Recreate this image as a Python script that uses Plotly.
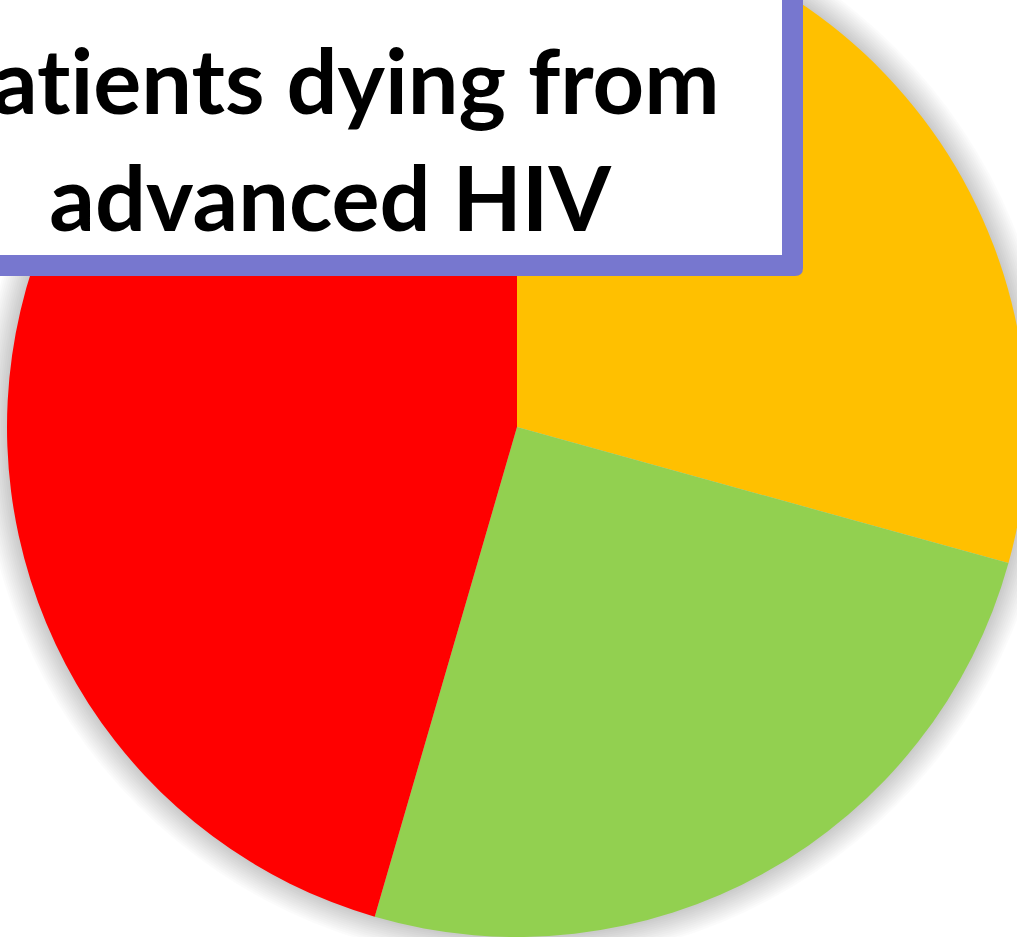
import plotly.graph_objects as go

# ---- data ----
categories = ["Yellow group", "Green group", "Red group"]
shares = [29.3, 25.2, 45.5]
colors = ["#FFC000", "#92D050", "#FF0000"]
title_text = "patients dying from<br>advanced HIV"

# ---- geometry (page pixels; figure is larger than the window and shifted) ----
W, H = 1100, 1100
SX, SY = 40, 110          # figure offset hidden to the left / top
CX, CY, R = 517, 427, 510  # pie centre and radius in page pixels


def px(x):
    return (x + SX) / W


def py(y):
    return 1 - (y + SY) / H


def dom(r):
    return dict(x=[px(CX - r), px(CX + r)], y=[py(CY + r), py(CY - r)])


fig = go.Figure()

# soft shadow behind the pie
for k in range(26, 0, -2):
    fig.add_trace(go.Pie(values=[1], labels=["s"], domain=dom(R + k),
                         marker=dict(colors=["rgba(0,0,0,0.014)"]),
                         textinfo="none", hoverinfo="skip", showlegend=False,
                         sort=False))

fig.add_trace(go.Pie(labels=categories, values=shares, domain=dom(R),
                     marker=dict(colors=colors, line=dict(width=0)),
                     sort=False, direction="clockwise", rotation=0,
                     textinfo="none", hoverinfo="label+percent",
                     showlegend=False))

# title box: purple frame with rounded outer bottom-right corner
ox, oy = 803, 276   # outer right / bottom
ix, iy = 782, 255   # inner right / bottom
left, top = -300, -200
rc = 8
purple = "#7777CF"
path = (f"M {px(left)},{py(top)} L {px(ox)},{py(top)} "
        f"L {px(ox)},{py(oy - rc)} Q {px(ox)},{py(oy)} {px(ox - rc)},{py(oy)} "
        f"L {px(left)},{py(oy)} Z")
fig.add_shape(type="path", xref="paper", yref="paper", path=path,
              fillcolor=purple, line=dict(width=0), layer="above")
fig.add_shape(type="rect", xref="paper", yref="paper",
              x0=px(left), x1=px(ix), y0=py(iy), y1=py(top),
              fillcolor="white", line=dict(width=0), layer="above")

fig.add_annotation(text=title_text, xref="paper", yref="paper",
                   x=px(330), y=py(137), xanchor="center", yanchor="middle",
                   showarrow=False, align="center",
                   font=dict(family="Lato", size=90, color="black", weight="bold"))

fig.update_layout(width=W, height=H, margin=dict(l=0, r=0, t=0, b=0),
                  paper_bgcolor="white", plot_bgcolor="white")

post = f"""
document.body.style.margin='0';
document.body.style.overflow='hidden';
document.documentElement.style.overflow='hidden';
var gd=document.getElementById('{{plot_id}}');
gd.style.marginTop='-{SY}px';
gd.style.marginLeft='-{SX}px';
gd.querySelectorAll('.annotation-text').forEach(function(e){{
  e.style.fontVariantLigatures='none';
  e.style.fontFeatureSettings='"liga" 0, "clig" 0';
}});
"""
fig.write_html("out.html", post_script=post)
